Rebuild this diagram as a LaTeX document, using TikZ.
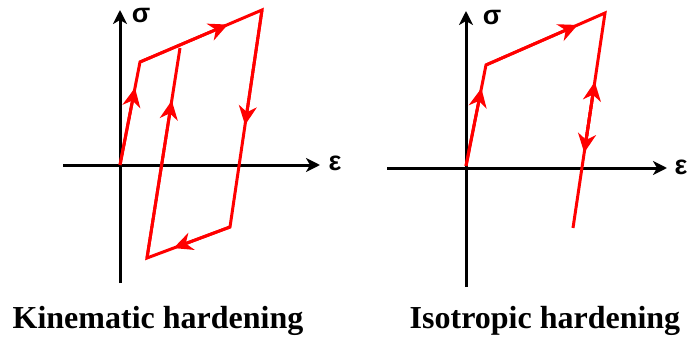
\documentclass[tikz,border=0pt]{standalone}
\usepackage{fontspec}
\setmainfont{Liberation Serif}
\newfontfamily\symfont{Liberation Sans}
\usetikzlibrary{arrows.meta,calc}

\begin{document}
\begin{tikzpicture}[
  x=1pt,y=-1pt,
  axis/.style={line width=3pt,-{Stealth[length=14pt,width=14pt,inset=4pt]}},
  curve/.style={red,line width=3pt},
  flow/.style={red,line width=3pt,-{Stealth[length=19pt,width=18pt,inset=6pt]}},
  sym/.style={font=\symfont\bfseries\fontsize{27}{27}\selectfont,inner sep=0pt},
  caption/.style={font=\bfseries\fontsize{32}{32}\selectfont,inner sep=0pt,anchor=base}
]
  \useasboundingbox (0,0) rectangle (689,345);
  % kinematic hardening
  \coordinate (kbot) at (120,283);
  \coordinate (ktop) at (120,10);
  \coordinate (kleft) at (63,165);
  \coordinate (kright) at (320,165);
  \draw[axis] (kbot) -- (ktop);
  \draw[axis] (kleft) -- (kright);
  \node[sym] (ksig) at (141,16) {σ};
  \node[sym] (keps) at (335,163) {ε};
  \coordinate (k0) at (120,165);
  \coordinate (k1) at (140,62);
  \coordinate (k2) at (262,10);
  \coordinate (k3) at (230,227);
  \coordinate (k4) at (147,258);
  \coordinate (k5) at (180,48);
  \draw[curve] (k0) -- (k1) -- (k2) -- (k3) -- (k4) -- (k5);
  \draw[flow] (k0) -- ($(k0)!0.75!(k1)$);
  \draw[flow] (k1) -- ($(k1)!0.72!(k2)$);
  \draw[flow] (k2) -- ($(k2)!0.53!(k3)$);
  \draw[flow] (k3) -- ($(k3)!0.68!(k4)$);
  \draw[flow] (k4) -- ($(k4)!0.75!(k5)$);
  \node[caption] (kcap) at (158,328) {Kinematic hardening};
  % isotropic hardening
  \coordinate (ibot) at (466,287);
  \coordinate (itop) at (466,11);
  \coordinate (ileft) at (387,168);
  \coordinate (iright) at (667,168);
  \draw[axis] (ibot) -- (itop);
  \draw[axis] (ileft) -- (iright);
  \node[sym] (isig) at (492,18) {σ};
  \node[sym] (ieps) at (681,167) {ε};
  \coordinate (i0) at (466,166);
  \coordinate (i1) at (486,65);
  \coordinate (i2) at (605,13);
  \coordinate (i3) at (573,228);
  \draw[curve] (i0) -- (i1) -- (i2) -- (i3);
  \draw[flow] (i0) -- ($(i0)!0.77!(i1)$);
  \draw[flow] (i1) -- ($(i1)!0.77!(i2)$);
  \draw[flow] ($(i2)!0.6!(i3)$) -- ($(i2)!0.32!(i3)$);
  \draw[flow] ($(i2)!0.36!(i3)$) -- ($(i2)!0.65!(i3)$);
  \node[caption] (icap) at (545,328) {Isotropic hardening};
\end{tikzpicture}
\end{document}
